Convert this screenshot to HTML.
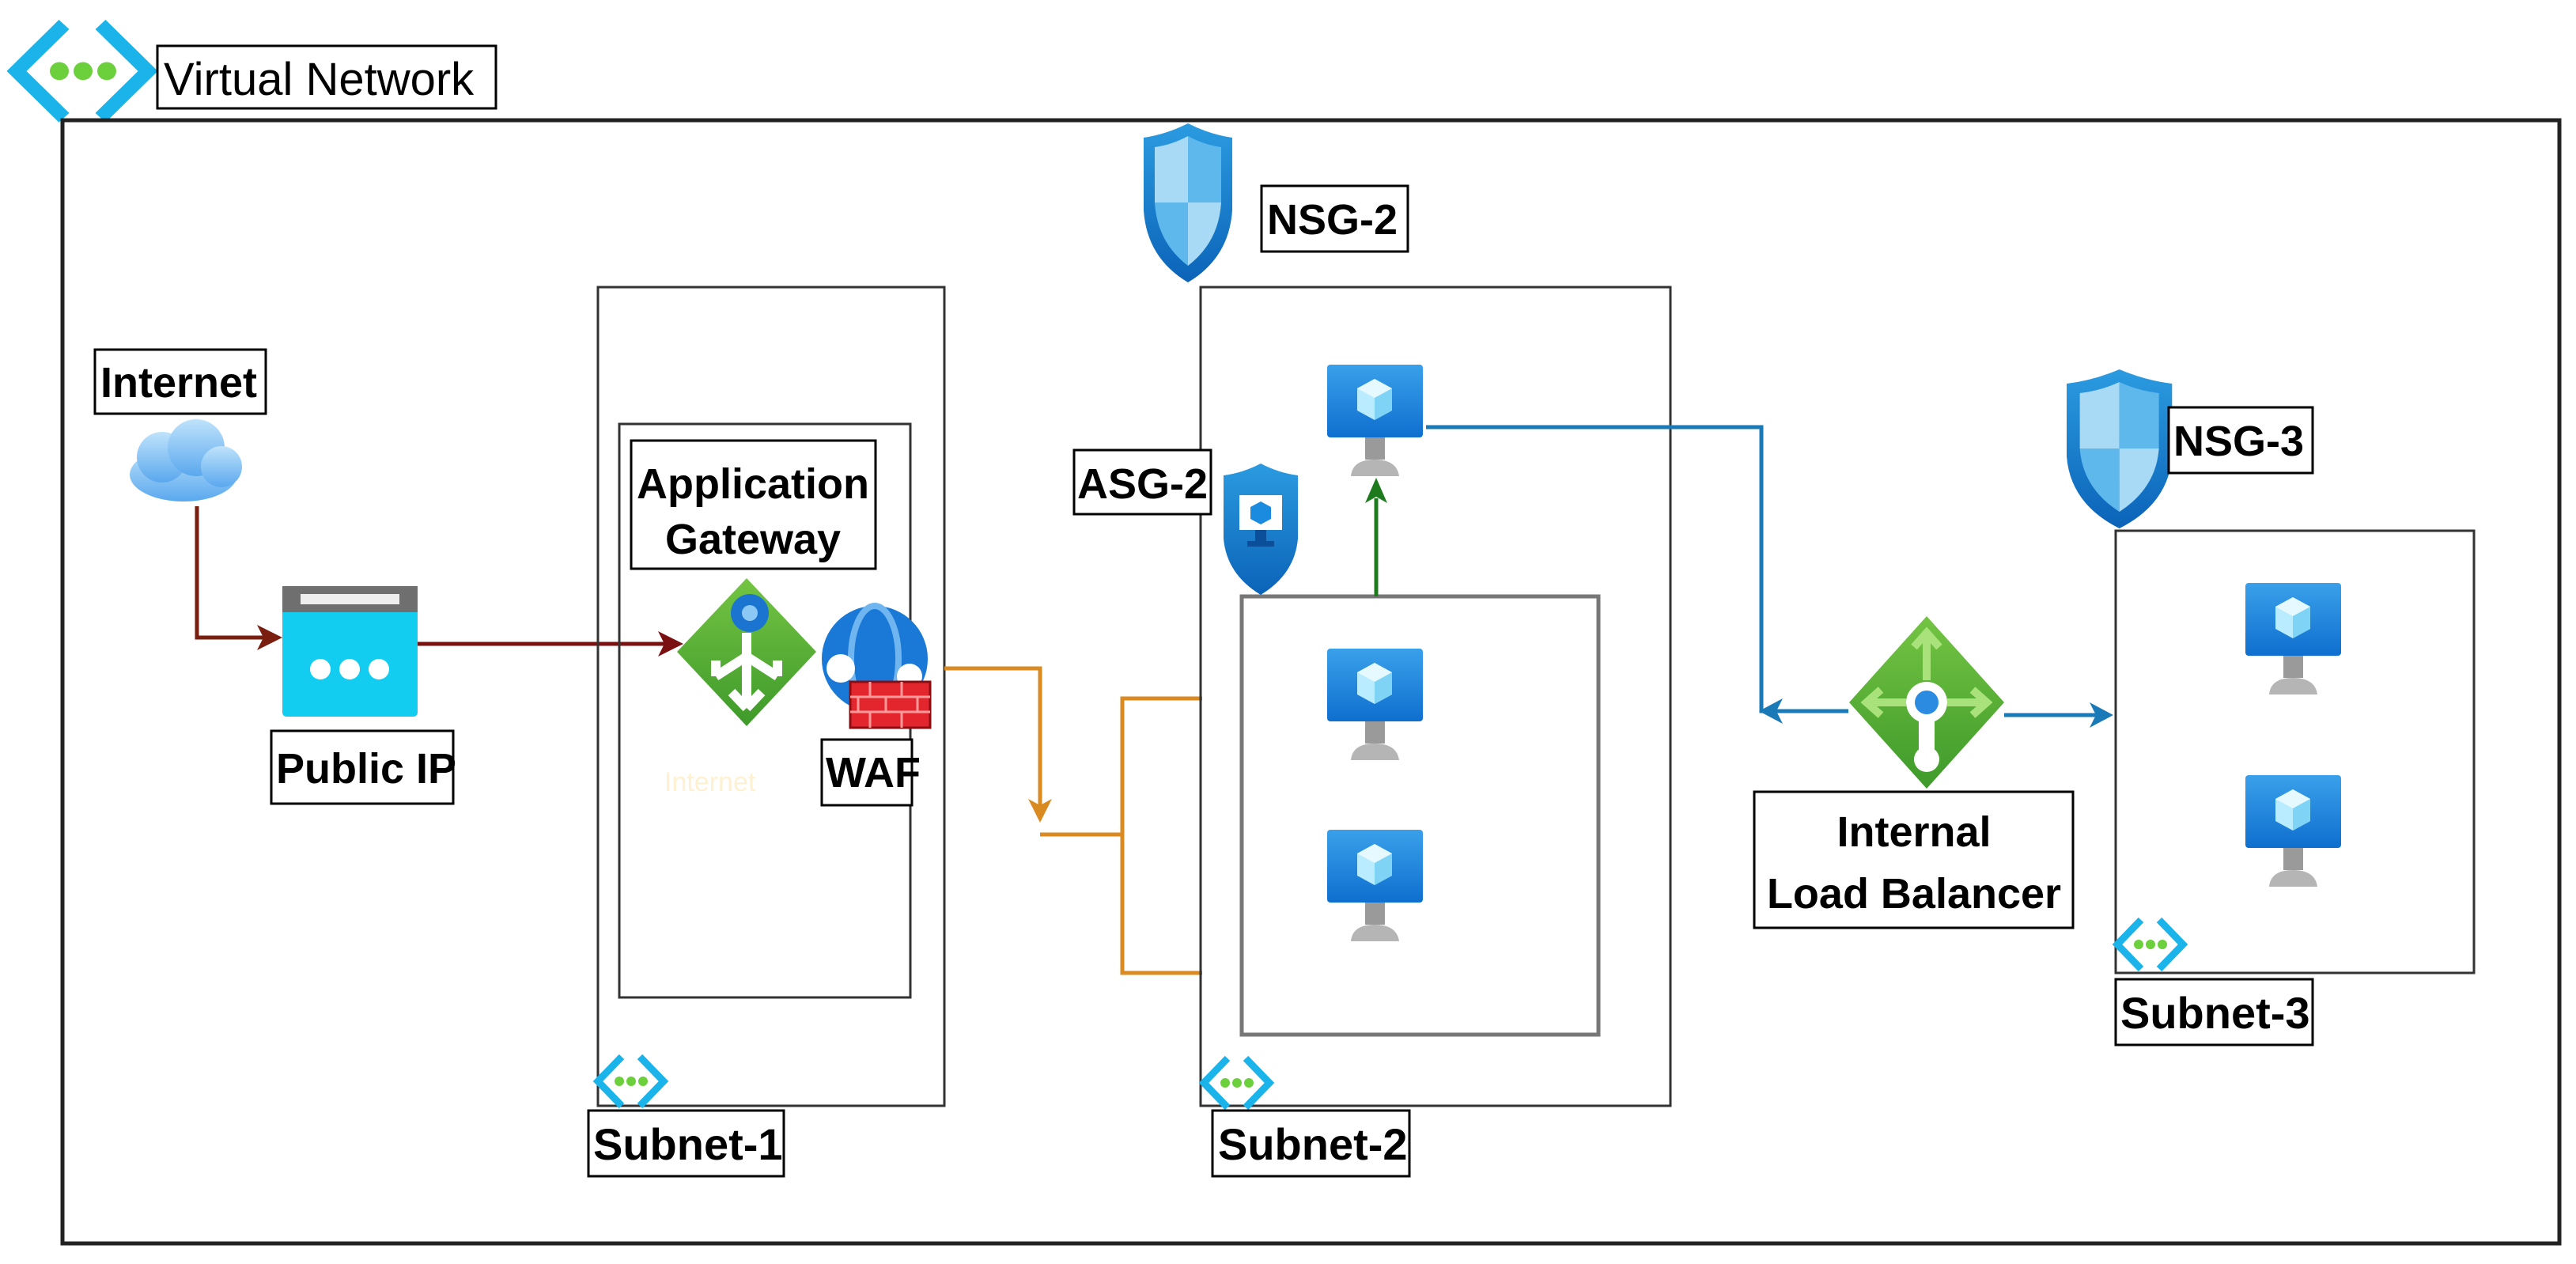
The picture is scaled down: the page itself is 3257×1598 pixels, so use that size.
<!DOCTYPE html>
<html><head><meta charset="utf-8"><style>
html,body{margin:0;padding:0;background:#fff;}
svg{display:block;}
text{font-family:"Liberation Sans",sans-serif;fill:#000;}
</style></head><body>
<svg width="3257" height="1598" viewBox="0 0 3257 1598" xmlns="http://www.w3.org/2000/svg">
<defs>
<linearGradient id="vmg" x1="0" y1="0" x2="0" y2="1"><stop offset="0" stop-color="#3aa0ea"/><stop offset="1" stop-color="#0f6fcf"/></linearGradient>
<linearGradient id="shg" x1="0" y1="0" x2="0" y2="1"><stop offset="0" stop-color="#2b9be0"/><stop offset="1" stop-color="#0b63b8"/></linearGradient>
<linearGradient id="cl" x1="0" y1="0" x2="0" y2="1"><stop offset="0" stop-color="#bfe3fb"/><stop offset="1" stop-color="#5aa8ee"/></linearGradient>
<linearGradient id="gr" x1="0" y1="0" x2="0" y2="1"><stop offset="0" stop-color="#74c443"/><stop offset="1" stop-color="#3e9a2a"/></linearGradient>
<g id="vm">
 <rect x="0" y="0" width="121" height="92" rx="4" fill="url(#vmg)"/>
 <polygon points="60,18 82,30 82,58 60,70 38,58 38,30" fill="#b9ecff"/>
 <polygon points="60,18 82,30 60,42 38,30" fill="#e6f9ff"/>
 <polygon points="60,42 82,30 82,58 60,70" fill="#7fd4f5"/>
 <rect x="48" y="92" width="25" height="28" fill="#9a9a9a"/>
 <path d="M30,141 Q32,120 60,120 Q88,120 91,141 Z" fill="#b5b5b5"/>
</g>
<g id="shield">
 <path d="M0,18 Q28,14 56,0 Q84,14 112,18 L112,110 Q108,170 56,201 Q4,170 0,110 Z" fill="url(#shg)"/>
 <path d="M14,30 Q36,27 56,16 L56,100 L14,100 Z" fill="#a8daf5"/>
 <path d="M56,100 L98,100 Q95,150 56,180 Z" fill="#a8daf5"/>
 <path d="M56,16 Q76,27 98,30 L98,100 L56,100 Z" fill="#5fb8ec"/>
 <path d="M14,100 L56,100 L56,180 Q17,150 14,100 Z" fill="#5fb8ec"/>
</g>
<g id="vnet">
 <path d="M30,0 L0,31 L30,62" fill="none" stroke="#1bb4ea" stroke-width="9"/>
 <path d="M53,0 L83,31 L53,62" fill="none" stroke="#1bb4ea" stroke-width="9"/>
 <circle cx="27" cy="31" r="6" fill="#6ccf3c"/><circle cx="42" cy="31" r="6" fill="#6ccf3c"/><circle cx="57" cy="31" r="6" fill="#6ccf3c"/>
</g>
</defs>

<!-- Virtual network header -->
<g transform="translate(21,31) scale(2,1.9)"><use href="#vnet"/></g>
<rect x="199" y="58" width="428" height="79" fill="#fff" stroke="#000" stroke-width="3"/>
<text x="207" y="120" font-size="58">Virtual Network</text>

<!-- outer box -->
<rect x="79" y="152" width="3157" height="1420" fill="none" stroke="#222" stroke-width="5"/>

<!-- Internet -->
<rect x="120" y="442" width="216" height="81" fill="#fff" stroke="#000" stroke-width="3"/>
<text x="127" y="502" font-size="54" font-weight="bold">Internet</text>
<g>
 <ellipse cx="232" cy="600" rx="68" ry="34" fill="url(#cl)"/>
 <circle cx="205" cy="578" r="32" fill="url(#cl)"/>
 <circle cx="248" cy="566" r="36" fill="url(#cl)"/>
 <circle cx="280" cy="590" r="26" fill="url(#cl)"/>
</g>
<polyline points="249,640 249,806 345,806" fill="none" stroke="#7a1f10" stroke-width="5"/>
<polygon points="357,806 325,790 333,806 325,822" fill="#7a1f10"/>

<!-- Public IP -->
<rect x="357" y="741" width="171" height="165" rx="5" fill="#12cdf0"/>
<rect x="357" y="741" width="171" height="33" fill="#6f6f6f"/>
<rect x="380" y="751" width="125" height="13" fill="#eee"/>
<circle cx="405" cy="846" r="13" fill="#fff"/><circle cx="442" cy="846" r="13" fill="#fff"/><circle cx="479" cy="846" r="13" fill="#fff"/>
<rect x="343" y="924" width="230" height="92" fill="#fff" stroke="#000" stroke-width="3"/>
<text x="349" y="990" font-size="54" font-weight="bold">Public IP</text>
<line x1="528" y1="814" x2="850" y2="814" stroke="#7a1010" stroke-width="5"/>
<polygon points="864,814 832,798 840,814 832,830" fill="#7a1010"/>

<!-- Subnet-1 -->
<rect x="756" y="363" width="438" height="1035" fill="none" stroke="#333" stroke-width="3"/>
<rect x="783" y="536" width="368" height="725" fill="none" stroke="#333" stroke-width="3"/>
<rect x="798" y="557" width="309" height="162" fill="#fff" stroke="#000" stroke-width="3"/>
<text x="952" y="630" font-size="54" font-weight="bold" text-anchor="middle">Application</text>
<text x="952" y="700" font-size="54" font-weight="bold" text-anchor="middle">Gateway</text>
<polygon points="944,731 1032,824 944,918 856,824" fill="url(#gr)"/>
<path d="M944,800 L944,895 M944,895 L925,875 M944,895 L963,875 M944,830 L905,855 M905,855 L905,835 M944,830 L983,855 M983,855 L983,835" stroke="#fff" stroke-width="12" fill="none"/>
<circle cx="948" cy="775" r="24" fill="#1b75d0"/><circle cx="948" cy="775" r="10" fill="#8cc8f5"/>
<circle cx="1106" cy="833" r="67" fill="#1a78d6"/>
<ellipse cx="1106" cy="833" rx="30" ry="67" fill="none" stroke="#6fb6f0" stroke-width="8"/>
<circle cx="1063" cy="845" r="18" fill="#fff"/><circle cx="1150" cy="855" r="16" fill="#fff"/>
<rect x="1075" y="862" width="101" height="58" fill="#e3262e" stroke="#8a0d12" stroke-width="3"/>
<path d="M1075,881 H1176 M1075,900 H1176 M1100,862 V881 M1140,862 V881 M1085,881 V900 M1120,881 V900 M1160,881 V900 M1100,900 V920 M1140,900 V920" stroke="#ff9a9a" stroke-width="3"/>
<text x="840" y="1000" font-size="34" fill="#fff3d6" style="fill:#fdf1d2">Internet</text>
<rect x="1039" y="935" width="114" height="83" fill="#fff" stroke="#000" stroke-width="3"/>
<text x="1044" y="995" font-size="54" font-weight="bold">WAF</text>
<g transform="translate(756,1336)"><use href="#vnet"/></g>
<rect x="744" y="1404" width="247" height="83" fill="#fff" stroke="#000" stroke-width="3"/>
<text x="750" y="1466" font-size="56" font-weight="bold">Subnet-1</text>

<!-- orange connectors -->
<polyline points="1194,845 1315,845 1315,1025" fill="none" stroke="#d98a20" stroke-width="5"/>
<polygon points="1315,1040 1300,1010 1315,1018 1330,1010" fill="#d98a20"/>
<polyline points="1315,1055 1419,1055" fill="none" stroke="#d98a20" stroke-width="5"/>
<polyline points="1520,883 1419,883 1419,1230 1520,1230" fill="none" stroke="#d98a20" stroke-width="5"/>

<!-- NSG-2 -->
<g transform="translate(1446,156)"><use href="#shield"/></g>
<rect x="1595" y="235" width="185" height="83" fill="#fff" stroke="#000" stroke-width="3"/>
<text x="1602" y="296" font-size="54" font-weight="bold">NSG-2</text>

<!-- Subnet-2 -->
<rect x="1518" y="363" width="594" height="1035" fill="none" stroke="#333" stroke-width="3"/>
<g transform="translate(1678,461)"><use href="#vm"/></g>
<rect x="1358" y="569" width="173" height="81" fill="#fff" stroke="#000" stroke-width="3"/>
<text x="1362" y="630" font-size="54" font-weight="bold">ASG-2</text>
<g transform="translate(1547,586)">
 <path d="M0,15 Q24,12 47,0 Q70,12 94,15 L94,95 Q90,140 47,166 Q4,140 0,95 Z" fill="url(#shg)"/>
 <rect x="20" y="40" width="54" height="44" fill="#fff"/>
 <polygon points="47,48 60,55 60,70 47,77 34,70 34,55" fill="#1b8be0"/>
 <rect x="40" y="84" width="14" height="14" fill="#0b4f9a"/><rect x="30" y="98" width="34" height="7" fill="#0b4f9a"/>
</g>
<rect x="1570" y="754" width="451" height="554" fill="none" stroke="#777" stroke-width="5"/>
<line x1="1740" y1="754" x2="1740" y2="630" stroke="#1d7a1d" stroke-width="5"/>
<polygon points="1740,604 1726,636 1740,628 1754,636" fill="#1d7a1d"/>
<g transform="translate(1678,820)"><use href="#vm"/></g>
<g transform="translate(1678,1049)"><use href="#vm"/></g>
<g transform="translate(1522,1338)"><use href="#vnet"/></g>
<rect x="1533" y="1404" width="249" height="83" fill="#fff" stroke="#000" stroke-width="3"/>
<text x="1540" y="1466" font-size="56" font-weight="bold">Subnet-2</text>

<!-- blue connectors -->
<polyline points="1803,540 2227,540 2227,899 2337,899" fill="none" stroke="#1a7ab8" stroke-width="5"/>
<polygon points="2224,899 2254,883 2246,899 2254,915" fill="#1a7ab8"/>
<line x1="2534" y1="904" x2="2655" y2="904" stroke="#1a7ab8" stroke-width="5"/>
<polygon points="2672,904 2642,888 2650,904 2642,920" fill="#1a7ab8"/>

<!-- Load balancer -->
<polygon points="2436,779 2534,888 2436,997 2338,888" fill="url(#gr)"/>
<path d="M2436,800 V860 M2420,818 L2436,800 L2452,818 M2360,888 H2410 M2378,872 L2360,888 L2378,904 M2462,888 H2512 M2494,872 L2512,888 L2494,904" stroke="#a9e27a" stroke-width="10" fill="none"/>
<circle cx="2436" cy="888" r="26" fill="#fff"/><circle cx="2436" cy="888" r="15" fill="#2a8be0"/>
<rect x="2426" y="912" width="20" height="40" fill="#fff"/><circle cx="2436" cy="960" r="16" fill="#fff"/>
<rect x="2218" y="1001" width="403" height="172" fill="#fff" stroke="#000" stroke-width="3"/>
<text x="2420" y="1070" font-size="54" font-weight="bold" text-anchor="middle">Internal</text>
<text x="2420" y="1148" font-size="54" font-weight="bold" text-anchor="middle">Load Balancer</text>

<!-- NSG-3 / Subnet-3 -->
<rect x="2675" y="671" width="453" height="559" fill="none" stroke="#333" stroke-width="3"/>
<g transform="translate(2613,467) scale(1.19,1)"><use href="#shield"/></g>
<rect x="2742" y="515" width="182" height="83" fill="#fff" stroke="#000" stroke-width="3"/>
<text x="2748" y="576" font-size="54" font-weight="bold">NSG-3</text>
<g transform="translate(2839,737)"><use href="#vm"/></g>
<g transform="translate(2839,980)"><use href="#vm"/></g>
<g transform="translate(2677,1163)"><use href="#vnet"/></g>
<rect x="2675" y="1238" width="249" height="83" fill="#fff" stroke="#000" stroke-width="3"/>
<text x="2681" y="1300" font-size="56" font-weight="bold">Subnet-3</text>
</svg>
</body></html>
